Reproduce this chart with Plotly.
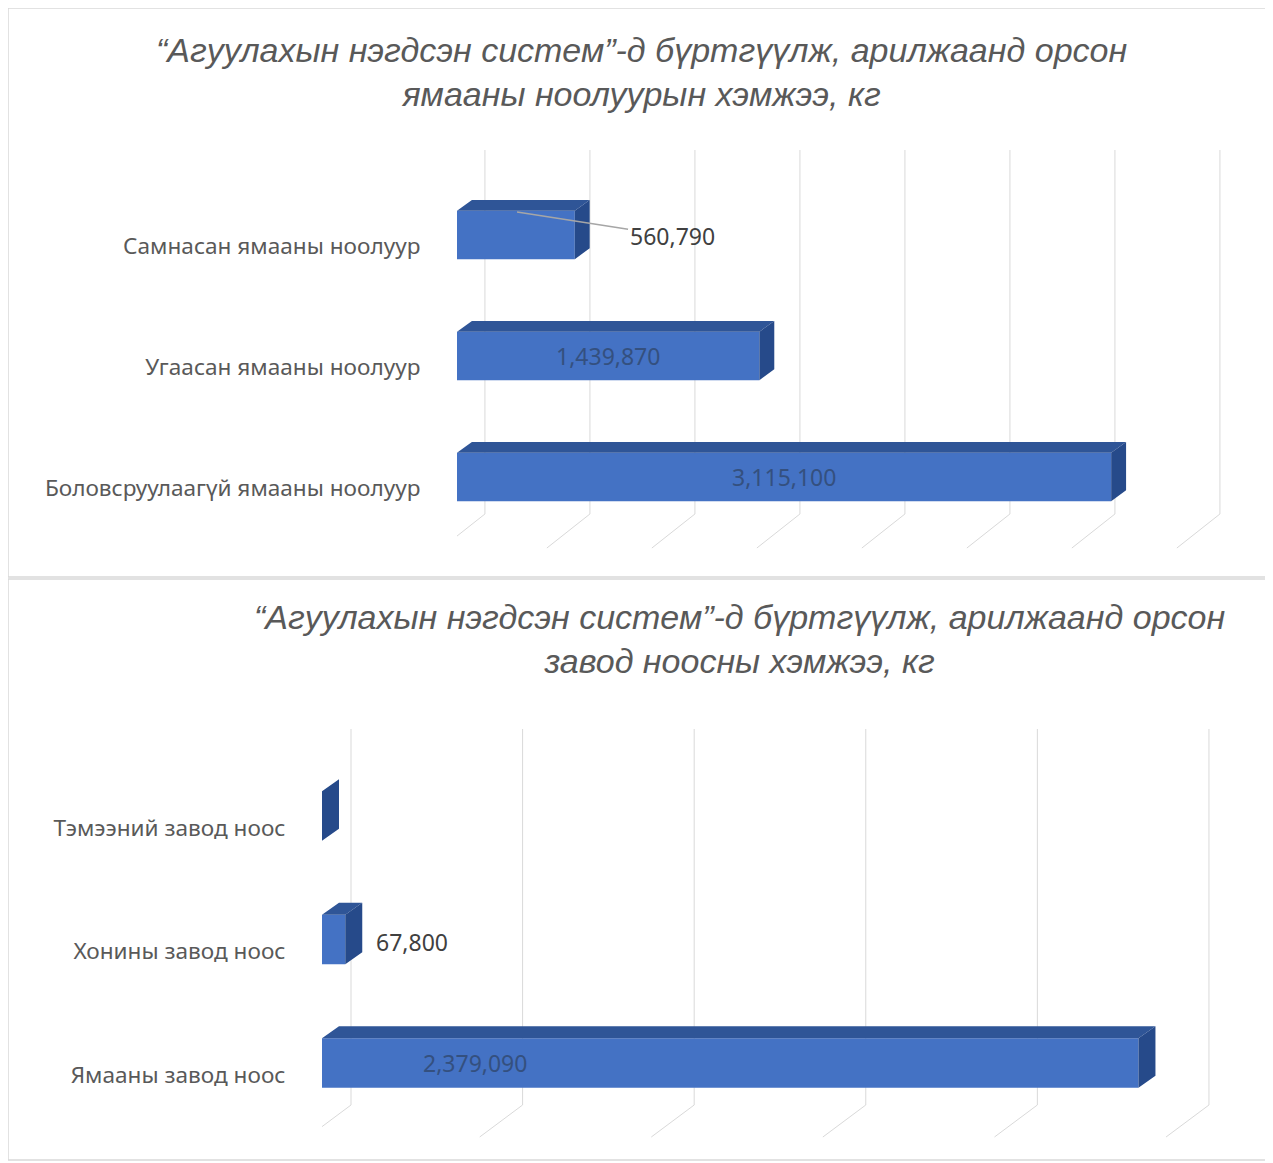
import plotly.graph_objects as go

# ---------------- data ----------------
cats_top = ["Боловсруулаагүй ямааны ноолуур", "Угаасан ямааны ноолуур", "Самнасан ямааны ноолуур"]
vals_top = [3115100, 1439870, 560790]
labels_top = ["3,115,100", "1,439,870", "560,790"]
ticks_top = [0, 500000, 1000000, 1500000, 2000000, 2500000, 3000000, 3500000]

cats_bot = ["Ямааны завод ноос", "Хонины завод ноос", "Тэмээний завод ноос"]
vals_bot = [2379090, 67800, 0]
labels_bot = ["2,379,090", "67,800", ""]
ticks_bot = [0, 500000, 1000000, 1500000, 2000000, 2500000]

title_top = "“Агуулахын нэгдсэн систем”-д бүртгүүлж, арилжаанд орсон<br>ямааны ноолуурын хэмжээ, кг"
title_bot = "“Агуулахын нэгдсэн систем”-д бүртгүүлж, арилжаанд орсон<br>завод ноосны хэмжээ, кг"

# ---------------- style ----------------
OFF = 8                      # page body margin
W, H = 1273 - OFF, 1163 - OFF
FRONT = "#4472C4"
TOPF = "#2F5597"
SIDEF = "#264A8A"
GRID = "#D9D9D9"
TXT = "#595959"
LBL = "#404040"
INLBL = "#34507F"


def fx(x):
    return (x - OFF) / W


def fy(y):
    return 1 - (y - OFF) / H


# geometry in data units
BW = 0.4
c_top, c_bot = 0.091, 0.097           # front face centre above the tick label
h_top, h_bot = 0.09, 0.097            # depth (vertical) of the 3D top face
d_top, d_bot = 71000, 49500           # depth (horizontal) of the 3D side face
grid_shift_top, floor_dx_top = 133000, -205000
grid_shift_bot, floor_dx_bot = 84500, -125000

fig = go.Figure()


def add_chart(vals, c, h, d, xa, ya):
    pos = list(range(len(vals)))
    fig.add_trace(go.Bar(y=pos, x=vals, orientation="h", width=BW, offset=c - BW / 2,
                         marker=dict(color=FRONT, line=dict(width=0)),
                         xaxis=xa, yaxis=ya, showlegend=False))
    tx, ty, sx, sy = [], [], [], []
    for p, v in zip(pos, vals):
        yb = p + c - BW / 2
        yt = p + c + BW / 2
        tx += [0, v, v + d, d, 0, None]
        ty += [yt, yt, yt + h, yt + h, yt, None]
        sx += [v, v, v + d, v + d, v, None]
        sy += [yb, yt, yt + h, yb + h, yb, None]
    fig.add_trace(go.Scatter(x=tx, y=ty, mode="lines", fill="toself", fillcolor=TOPF,
                             line=dict(width=0, color=TOPF), xaxis=xa, yaxis=ya,
                             hoverinfo="skip", showlegend=False))
    fig.add_trace(go.Scatter(x=sx, y=sy, mode="lines", fill="toself", fillcolor=SIDEF,
                             line=dict(width=0, color=SIDEF), xaxis=xa, yaxis=ya,
                             hoverinfo="skip", showlegend=False))


add_chart(vals_top, c_top, h_top, d_top, "x", "y")
add_chart(vals_bot, c_bot, h_bot, d_bot, "x2", "y2")

shapes = []
# panel borders
shapes.append(dict(type="rect", xref="paper", yref="paper", x0=fx(8), x1=fx(1271),
                   y0=fy(577), y1=fy(8), line=dict(color=GRID, width=1.5), layer="below"))
shapes.append(dict(type="rect", xref="paper", yref="paper", x0=fx(8), x1=fx(1271),
                   y0=fy(1160), y1=fy(579), line=dict(color=GRID, width=1.5), layer="below"))

# 3D-like gridlines
for t in ticks_top:
    shapes.append(dict(type="line", xref="x", yref="paper", x0=t + grid_shift_top, x1=t + grid_shift_top,
                       y0=fy(514), y1=fy(150), line=dict(color=GRID, width=1), layer="below"))
    shapes.append(dict(type="line", xref="x", yref="paper", x0=t + grid_shift_top,
                       x1=t + grid_shift_top + floor_dx_top,
                       y0=fy(514), y1=fy(548), line=dict(color=GRID, width=1), layer="below"))
for t in ticks_bot:
    shapes.append(dict(type="line", xref="x2", yref="paper", x0=t + grid_shift_bot, x1=t + grid_shift_bot,
                       y0=fy(1105), y1=fy(729), line=dict(color=GRID, width=1), layer="below"))
    shapes.append(dict(type="line", xref="x2", yref="paper", x0=t + grid_shift_bot,
                       x1=t + grid_shift_bot + floor_dx_bot,
                       y0=fy(1105), y1=fy(1137), line=dict(color=GRID, width=1), layer="below"))

annotations = []
title_font = dict(family="Liberation Sans", size=34, color=TXT)
annotations.append(dict(text="<i>" + title_top.replace("<br>", "</i><br><i>") + "</i>",
                        xref="paper", yref="paper", x=fx(641), y=fy(72), showarrow=False,
                        font=title_font, align="center", xanchor="center", yanchor="middle"))
annotations.append(dict(text="<i>" + title_bot.replace("<br>", "</i><br><i>") + "</i>",
                        xref="paper", yref="paper", x=fx(739), y=fy(639), showarrow=False,
                        font=title_font, align="center", xanchor="center", yanchor="middle"))

lbl_font = dict(family="Noto Sans", size=23)
# top chart value labels
annotations.append(dict(text=labels_top[0], x=vals_top[0] / 2, y=0 + c_top, xref="x", yref="y",
                        showarrow=False, font=dict(lbl_font, color=INLBL)))
annotations.append(dict(text=labels_top[1], x=vals_top[1] / 2, y=1 + c_top, xref="x", yref="y",
                        showarrow=False, font=dict(lbl_font, color=INLBL)))
annotations.append(dict(text=labels_top[2], x=vals_top[2] * 0.51, y=2 + 0.281, xref="x", yref="y",
                        showarrow=True, arrowhead=0, arrowwidth=1.5, arrowcolor="#A6A6A6",
                        ax=155, ay=24, font=dict(lbl_font, color=LBL)))
# bottom chart value labels
annotations.append(dict(text=labels_bot[0], x=vals_bot[0] * 0.1875, y=0 + c_bot, xref="x2", yref="y2",
                        showarrow=False, font=dict(lbl_font, color=INLBL)))
annotations.append(dict(text=labels_bot[1], x=vals_bot[1] + d_bot, y=1 + 0.075, xref="x2", yref="y2",
                        xanchor="left", xshift=12, showarrow=False, font=dict(lbl_font, color=LBL)))

tickfont = dict(family="Noto Sans", size=22.6, color=TXT)
fig.update_layout(
    width=W, height=H,
    margin=dict(l=0, r=0, t=0, b=0),
    paper_bgcolor="white", plot_bgcolor="rgba(0,0,0,0)",
    barmode="overlay",
    shapes=shapes,
    annotations=annotations,
    xaxis=dict(domain=[fx(457), fx(1234)], range=[0, 3700000], anchor="y",
               showgrid=False, zeroline=False, showticklabels=False, showline=False),
    yaxis=dict(domain=[fy(548.5), fy(185.5)], range=[-0.5, 2.5], anchor="x",
               tickvals=[0, 1, 2], ticktext=cats_top,
               showgrid=False, zeroline=False, showline=False,
               ticks="outside", ticklen=31, tickcolor="rgba(0,0,0,0)", tickfont=tickfont),
    xaxis2=dict(domain=[fx(322), fx(1248.6)], range=[0, 2700000], anchor="y2",
                showgrid=False, zeroline=False, showticklabels=False, showline=False),
    yaxis2=dict(domain=[fy(1136.75), fy(766.25)], range=[-0.5, 2.5], anchor="x2",
                tickvals=[0, 1, 2], ticktext=cats_bot,
                showgrid=False, zeroline=False, showline=False,
                ticks="outside", ticklen=31, tickcolor="rgba(0,0,0,0)", tickfont=tickfont),
)

fig.write_html("out.html")
